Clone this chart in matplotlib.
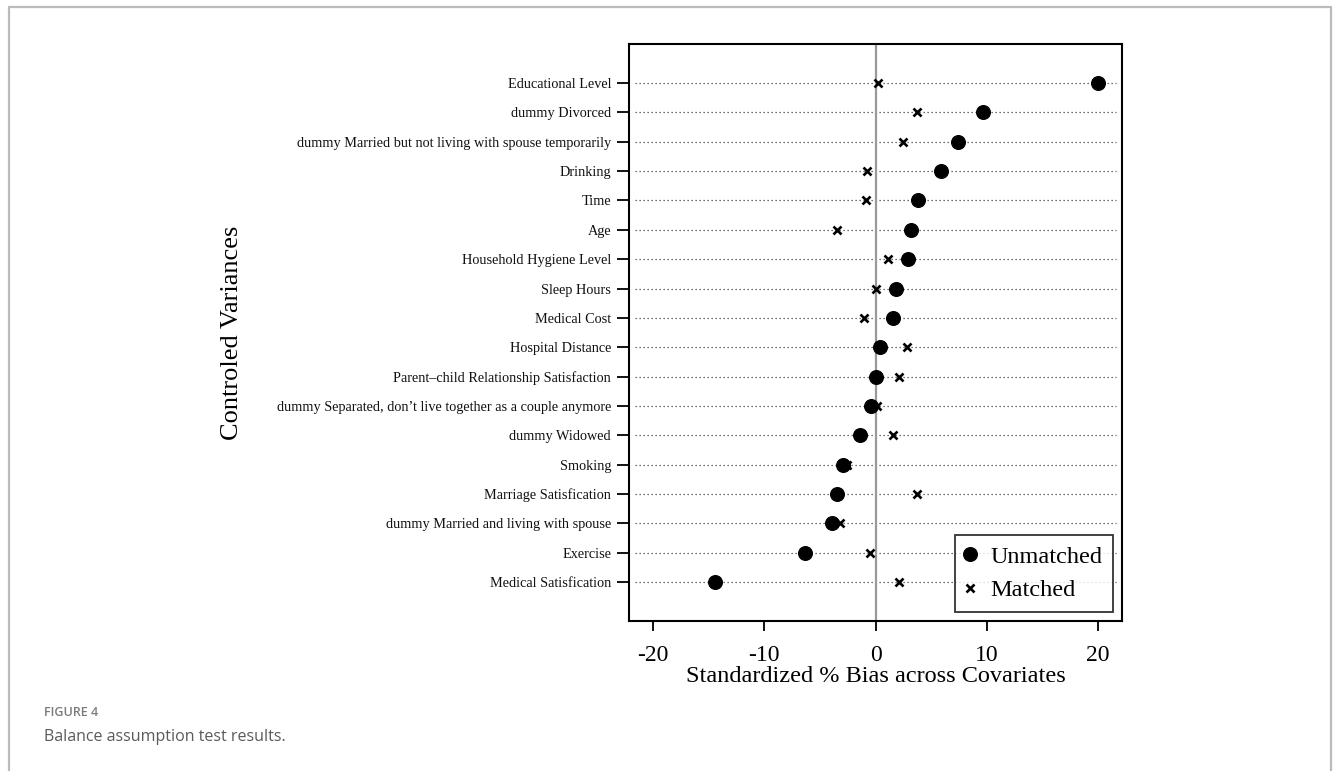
import numpy as np
import matplotlib
matplotlib.use('Agg')
import matplotlib.pyplot as plt
from matplotlib.lines import Line2D

# covariates, listed top to bottom
covariates = [
    'Educational Level',
    'dummy Divorced',
    'dummy Married but not living with spouse temporarily',
    'Drinking',
    'Time',
    'Age',
    'Household Hygiene Level',
    'Sleep Hours',
    'Medical Cost',
    'Hospital Distance',
    'Parent\u2013child Relationship Satisfaction',
    'dummy Separated, don\u2019t live together as a couple anymore',
    'dummy Widowed',
    'Smoking',
    'Marriage Satisfication',
    'dummy Married and living with spouse',
    'Exercise',
    'Medical Satisfication',
]

# standardized % bias before / after matching
unmatched = [20.0, 9.7, 7.4, 5.9, 3.8, 3.2, 2.9, 1.8, 1.6,
             0.4, 0.0, -0.4, -1.4, -2.9, -3.5, -3.9, -6.3, -14.4]
matched = [0.2, 3.7, 2.5, -0.75, -0.9, -3.5, 1.1, 0.0, -1.05,
           2.8, 2.1, 0.1, 1.6, -2.6, 3.7, -3.2, -0.5, 2.1]

xticks = [-20, -10, 0, 10, 20]

SERIF = ['Liberation Serif', 'DejaVu Serif']

fig = plt.figure(figsize=(13.33, 7.71), dpi=100)
ax = fig.add_axes([0.4721, 0.1949, 0.3694, 0.7476])

ypos = np.arange(len(covariates))[::-1]

for y in ypos:
    ax.axhline(y, xmin=0.012, xmax=0.988, color='#444444', lw=0.9,
               dashes=(1, 2.2), zorder=1)
ax.axvline(0, color='#999999', lw=1.6, zorder=2)

ax.plot(unmatched, ypos, 'o', color='black', ms=9.8, ls='none',
        label='Unmatched', zorder=3)
ax.plot(matched, ypos, 'x', color='black', ms=6, mew=1.9, ls='none',
        label='Matched', zorder=4)

ax.set_xlim(-22.15, 22.15)
ax.set_ylim(-1.32, 18.32)
ax.set_xticks(xticks)
ax.set_xticklabels([str(t) for t in xticks], family=SERIF, fontsize=17)
ax.set_yticks(ypos)
ax.set_yticklabels(covariates, family=SERIF, fontsize=10.3, color='#111111')
ax.tick_params(axis='y', length=8.6, width=1.3, pad=4.5)
ax.tick_params(axis='x', length=7.2, width=1.3, pad=10.5)

for s in ax.spines.values():
    s.set_linewidth(1.5)

ax.set_xlabel('Standardized % Bias across Covariates', family=SERIF,
              fontsize=17.5, labelpad=0)
ax.set_ylabel('Controled Variances', family=SERIF, fontsize=19, va='center')
ax.yaxis.set_label_coords(-0.807, 0.5)

leg = ax.legend(loc='lower right', bbox_to_anchor=(0.983, 0.0156),
                borderaxespad=0, prop={'family': SERIF, 'size': 17.5},
                frameon=True, fancybox=False, edgecolor='black',
                handletextpad=0.69, handlelength=0.35, borderpad=0.44,
                labelspacing=0.47)
leg.get_frame().set_linewidth(1.3)

# page frame and caption
fig.add_artist(Line2D([9 / 1333, 9 / 1333, 1331 / 1333, 1331 / 1333],
                      [0, 1 - 7 / 771, 1 - 7 / 771, 0],
                      transform=fig.transFigure, color='#bbbbbb', lw=1.6))
fig.text(44 / 1333, 1 - 713 / 771, 'FIGURE 4', family=['Open Sans', 'DejaVu Sans'],
         fontsize=9, fontweight='semibold', color='#7a7a7a', va='center')
fig.text(44 / 1333, 1 - 737 / 771, 'Balance assumption test results.',
         family=['Open Sans', 'DejaVu Sans'], fontsize=11.5, color='#5a5a5a',
         va='center')

fig.savefig('out.png', dpi=100)
